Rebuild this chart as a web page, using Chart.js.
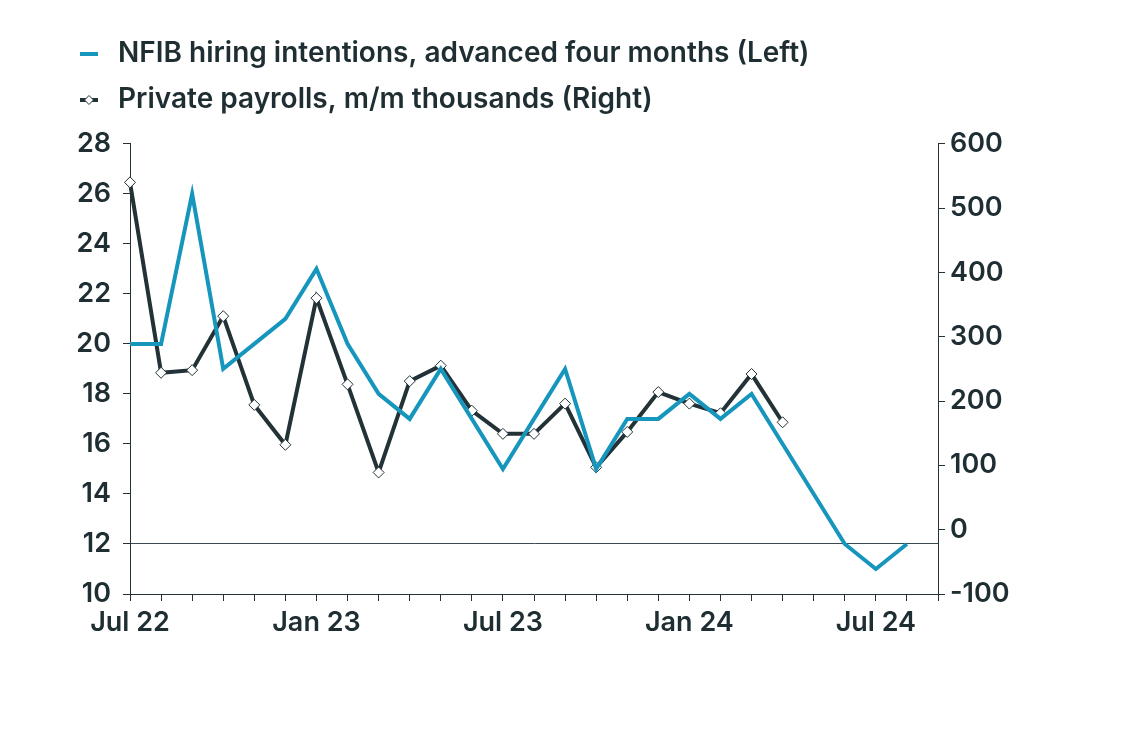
<!DOCTYPE html>
<html lang="en">
  <head>
    <meta charset="UTF-8" />
    <title>NFIB hiring intentions vs private payrolls</title>
    <style>
      body { margin: 0; background: #ffffff; }
      #wrap { width: 1124px; height: 749px; }
    </style>
  </head>
  <body>
    <div id="wrap">
      <canvas id="myChart" width="1124" height="749"></canvas>
    </div>

    <script src="https://cdn.jsdelivr.net/npm/chart.js"></script>
    <script>
      const months = [
        "Jul 22", "Aug 22", "Sep 22", "Oct 22", "Nov 22", "Dec 22",
        "Jan 23", "Feb 23", "Mar 23", "Apr 23", "May 23", "Jun 23",
        "Jul 23", "Aug 23", "Sep 23", "Oct 23", "Nov 23", "Dec 23",
        "Jan 24", "Feb 24", "Mar 24", "Apr 24", "May 24", "Jun 24",
        "Jul 24", "Aug 24", "Sep 24",
      ];
      const shownMonths = ["Jul 22", "Jan 23", "Jul 23", "Jan 24", "Jul 24"];

      // NFIB hiring intentions, advanced four months (left axis)
      const nfibHiring = [
        20, 20, 26, 19, 20, 21, 23, 20, 18, 17, 19, 17, 15,
        17, 19, 15, 17, 17, 18, 17, 18, 16, 14, 12, 11, 12,
      ];
      // Private payrolls, m/m thousands (right axis)
      const privatePayrolls = [
        540, 244, 248, 332, 194, 132, 360, 226, 89, 231, 255,
        185, 149, 149, 196, 97, 152, 214, 196, 181, 242, 167,
      ];

      const blue = "#1796bd";
      const dark = "#223236";
      const textColor = "#1f2e32";
      const font = { family: "Inter", size: 27, weight: "600" };
      const legendFont = { family: "Inter", size: 28, weight: "600" };

      // little legend icons (line drawn on the left 18px of a 24px canvas)
      function lineIcon(withDiamond, color) {
        const c = document.createElement("canvas");
        c.width = 24;
        c.height = 12;
        const ctx = c.getContext("2d");
        ctx.strokeStyle = color;
        ctx.lineWidth = 4;
        ctx.beginPath();
        ctx.moveTo(0, 6);
        ctx.lineTo(18, 6);
        ctx.stroke();
        if (withDiamond) {
          ctx.fillStyle = "#fff";
          ctx.lineWidth = 1;
          ctx.beginPath();
          ctx.moveTo(9, 1.5);
          ctx.lineTo(13.5, 6);
          ctx.lineTo(9, 10.5);
          ctx.lineTo(4.5, 6);
          ctx.closePath();
          ctx.fill();
          ctx.stroke();
        }
        return c;
      }
      const legendIcons = [lineIcon(false, blue), lineIcon(true, dark)];

      const config = {
        type: "line",
        data: {
          labels: months,
          datasets: [
            {
              label: "NFIB hiring intentions, advanced four months (Left)",
              data: nfibHiring,
              yAxisID: "yLeft",
              borderColor: blue,
              backgroundColor: blue,
              borderWidth: 4,
              pointRadius: 0,
              tension: 0,
            },
            {
              label: "Private payrolls, m/m thousands (Right)",
              data: privatePayrolls,
              yAxisID: "yRight",
              borderColor: dark,
              backgroundColor: "#ffffff",
              borderWidth: 4,
              pointStyle: "rectRot",
              pointRadius: 5.5,
              pointBorderWidth: 1,
              pointBorderColor: dark,
              pointBackgroundColor: "#ffffff",
              tension: 0,
            },
          ],
        },
        options: {
          responsive: false,
          animation: false,
          layout: {
            padding: { left: 62, right: 0, top: 22, bottom: 0 },
          },
          plugins: {
            tooltip: { enabled: false },
            // blank title used as spacer between legend and plot
            title: {
              display: true,
              text: " ",
              font: { size: 4 },
              padding: { top: 0, bottom: 15 },
            },
            legend: {
              position: "top",
              align: "start",
              weight: 3000,
              labels: {
                color: textColor,
                font: legendFont,
                usePointStyle: true,
                pointStyleWidth: 24,
                padding: 18,
                generateLabels(chart) {
                  const items = Chart.defaults.plugins.legend.labels.generateLabels(chart);
                  items.forEach((it, i) => {
                    it.pointStyle = legendIcons[i];
                  });
                  return items;
                },
              },
            },
          },
          scales: {
            x: {
              offset: false,
              afterFit(scale) {
                scale.height = 155;
              },
              border: { display: true, color: dark, width: 1 },
              grid: {
                drawOnChartArea: false,
                drawTicks: true,
                tickLength: 7,
                tickColor: dark,
              },
              ticks: {
                autoSkip: false,
                maxRotation: 0,
                padding: 6,
                color: textColor,
                font: font,
                callback(value) {
                  const lab = months[value];
                  return shownMonths.includes(lab) ? lab : "";
                },
              },
            },
            yLeft: {
              position: "left",
              min: 10,
              max: 28,
              afterFit(scale) {
                scale.width = 68;
              },
              border: { display: true, color: dark, width: 1 },
              grid: {
                drawTicks: true,
                tickLength: 7,
                tickColor: dark,
                lineWidth: 1,
                color: (ctx) => (ctx.tick && ctx.tick.value === 12 ? "#3b4a4e" : "rgba(0,0,0,0)"),
              },
              ticks: {
                stepSize: 2,
                padding: 12,
                color: textColor,
                font: font,
              },
            },
            yRight: {
              position: "right",
              min: -100,
              max: 600,
              afterFit(scale) {
                scale.width = 186;
              },
              border: { display: true, color: dark, width: 1 },
              grid: {
                drawOnChartArea: false,
                drawTicks: true,
                tickLength: 7,
                tickColor: dark,
              },
              ticks: {
                stepSize: 100,
                padding: 5,
                color: textColor,
                font: font,
              },
            },
          },
        },
      };

      const myChart = new Chart(document.getElementById("myChart"), config);
    </script>
  </body>
</html>
